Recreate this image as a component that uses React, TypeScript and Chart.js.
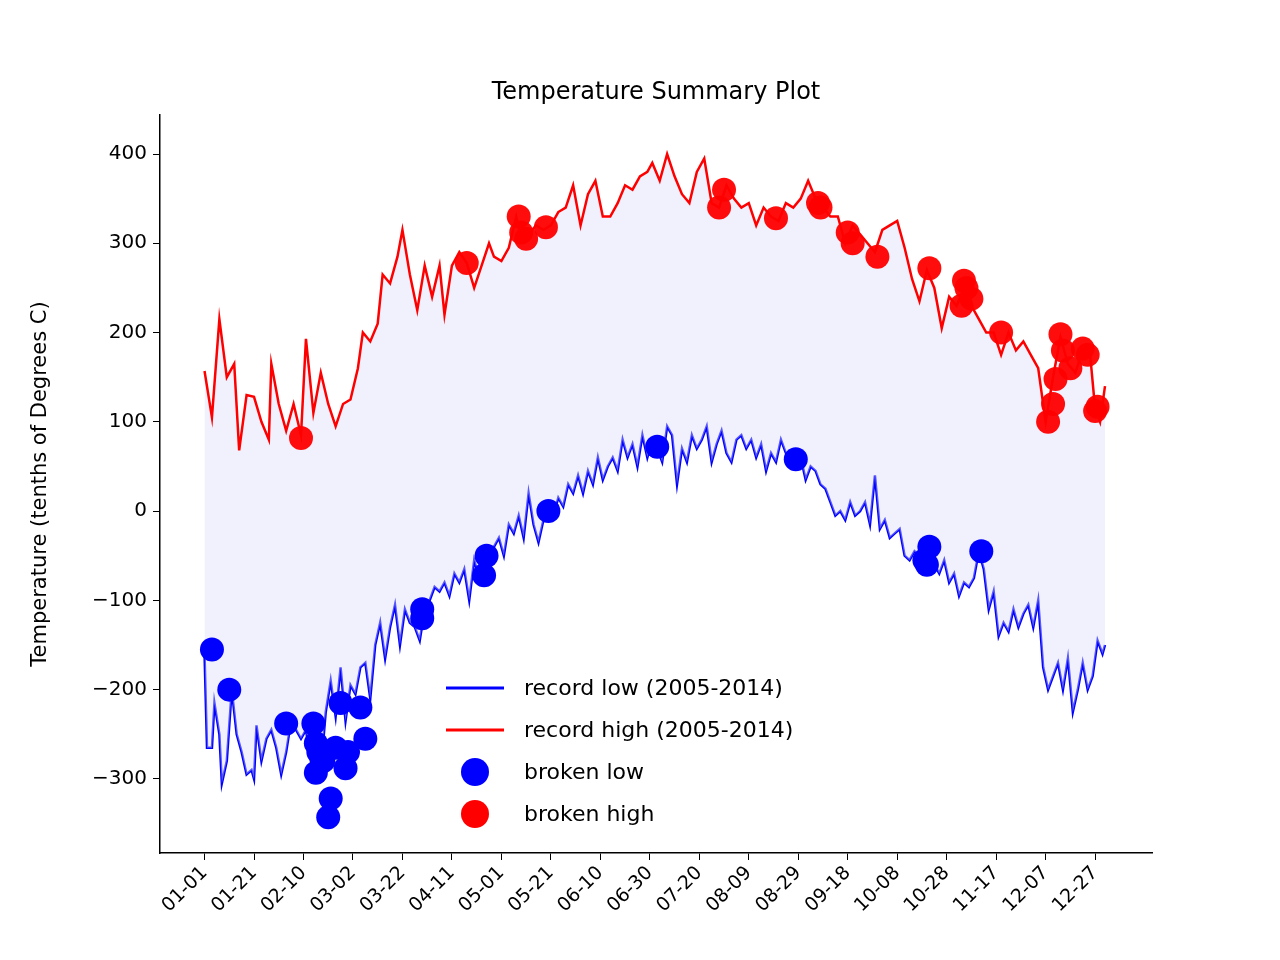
import React, { useEffect, useRef } from "react";
import { Chart, registerables } from "chart.js";
Chart.register(...registerables);

const highDays = [0,3,6,9,12,14,17,20,23,26,27,30,33,36,39,41,44,47,50,53,56,59,62,64,67,70,72,75,78,80,83,86,89,92,95,97,100,103,106,109,112,115,117,120,123,126,128,131,134,137,140,143,146,149,152,155,158,161,164,167,170,173,176,179,181,184,187,190,193,196,199,202,205,208,211,214,217,220,223,226,229,232,235,238,241,244,247,250,253,256,259,262,265,268,271,274,277,280,283,286,289,292,295,298,301,304,307,310,313,316,319,322,325,328,331,334,337,340,343,346,349,352,355,358,360,362,364];
const highVals = [157,105,215,150,165,68,130,128,100,80,165,120,90,120,85,193,110,155,120,95,120,125,160,200,190,210,265,255,285,315,265,225,275,240,275,220,275,290,278,250,275,300,285,280,295,330,305,310,320,315,320,335,340,365,320,355,370,330,330,345,365,360,375,380,390,370,400,375,355,345,380,395,345,340,365,350,340,345,320,340,330,325,345,340,350,370,350,340,330,330,300,320,310,300,290,315,320,325,295,260,235,270,250,205,240,230,250,230,215,200,200,175,200,180,190,175,160,100,150,195,165,155,180,175,115,100,140];

const lowDays = [0,1,3,4,6,7,9,11,13,15,17,19,20,21,23,25,27,29,31,33,35,37,39,41,43,45,47,49,51,53,55,57,59,61,63,65,67,69,71,73,75,77,79,81,83,85,87,89,91,93,95,97,99,101,103,105,107,109,111,113,115,117,119,121,123,125,127,129,131,133,135,137,139,141,143,145,147,149,151,153,155,157,159,161,163,165,167,169,171,173,175,177,179,181,183,185,187,189,191,193,195,197,199,201,203,205,207,209,211,213,215,217,219,221,223,225,227,229,231,233,235,237,239,241,243,245,247,249,251,253,255,257,259,261,263,265,267,269,271,273,275,277,279,281,283,285,287,289,291,293,295,297,299,301,303,305,307,309,311,313,315,317,319,321,323,325,327,329,331,333,335,337,339,341,343,345,347,349,351,353,355,357,359,361,363,364];
const lowVals = [-160,-265,-265,-215,-250,-305,-280,-200,-250,-270,-295,-290,-300,-240,-280,-255,-245,-265,-295,-270,-235,-245,-255,-245,-280,-265,-290,-225,-190,-230,-175,-235,-195,-205,-175,-170,-210,-150,-125,-165,-130,-105,-150,-110,-125,-130,-145,-110,-100,-85,-90,-80,-95,-70,-80,-65,-100,-55,-75,-50,-60,-40,-30,-50,-15,-25,-5,-30,20,-15,-35,-10,0,-5,15,5,30,20,40,20,45,30,60,35,50,60,45,80,60,75,50,85,60,80,70,55,95,85,30,70,55,85,70,80,95,55,75,90,65,55,80,85,70,80,60,75,45,65,55,80,65,55,65,60,35,50,45,30,25,10,-5,0,-10,10,-5,0,10,-15,40,-20,-10,-30,-25,-20,-50,-55,-45,-50,-45,-55,-60,-70,-55,-80,-70,-95,-80,-85,-75,-45,-65,-110,-90,-140,-125,-135,-110,-130,-115,-105,-130,-100,-175,-200,-185,-170,-200,-165,-225,-200,-170,-200,-185,-145,-160,-150];

const brokenLowDays = [3,10,33,44,45,45,46,48,50,51,53,55,57,58,63,65,88,88,113,114,139,183,239,291,292,293,314];
const brokenLowVals = [-155,-200,-238,-238,-260,-293,-270,-280,-343,-322,-265,-215,-288,-270,-220,-255,-110,-120,-72,-50,0,72,58,-55,-60,-40,-45];
const brokenHighDays = [39,106,127,128,130,138,208,210,231,249,248,260,262,272,293,306,307,308,310,322,341,343,344,346,347,350,355,357,360,361];
const brokenHighVals = [82,278,330,312,305,318,340,360,328,340,345,312,300,285,272,230,258,250,238,200,100,120,148,198,180,160,182,175,112,117];

const tickDays = [0,20,40,60,80,100,120,140,160,180,200,220,240,260,280,300,320,340,360];
const tickLabels = ["01-01","01-21","02-10","03-02","03-22","04-11","05-01","05-21","06-10","06-30","07-20","08-09","08-29","09-18","10-08","10-28","11-17","12-07","12-27"];
const legendLabels = ["record low (2005-2014)","record high (2005-2014)","broken low","broken high"];

const FONT = "'DejaVu Sans', sans-serif";

export default function App() {
  const ref = useRef<HTMLCanvasElement>(null);
  useEffect(() => {
    const pts = (xs: number[], ys: number[]) => xs.map((x, i) => ({ x, y: ys[i] }));
    const overlay = {
      id: "overlay",
      afterDraw(chart: any) {
        const ctx = chart.ctx;
        ctx.save();
        ctx.fillStyle = "#000";
        ctx.font = `24px ${FONT}`;
        ctx.textAlign = "center";
        ctx.textBaseline = "alphabetic";
        ctx.fillText("Temperature Summary Plot", (chart.chartArea.left + chart.chartArea.right) / 2, 99);
        const lx = 446, ty = 688, gap = 42;
        ctx.font = `22px ${FONT}`;
        ctx.textAlign = "left";
        ctx.textBaseline = "middle";
        legendLabels.forEach((t, i) => {
          const y = ty + i * gap;
          const col = i % 2 === 0 ? "blue" : "red";
          if (i < 2) {
            ctx.strokeStyle = col; ctx.lineWidth = 3;
            ctx.beginPath(); ctx.moveTo(lx, y); ctx.lineTo(lx + 58, y); ctx.stroke();
          } else {
            ctx.fillStyle = col;
            ctx.beginPath(); ctx.arc(lx + 29, y, 14, 0, Math.PI * 2); ctx.fill();
          }
          ctx.fillStyle = "#000";
          ctx.fillText(t, lx + 78, y + 1);
        });
        ctx.restore();
      },
    };
    const chart = new Chart(ref.current!, {
      type: "scatter",
      data: {
        datasets: [
          { label: "low", data: pts(lowDays, lowVals), showLine: true, borderColor: "blue", borderWidth: 2.5, pointRadius: 0, fill: false, order: 3 },
          { label: "high", data: pts(highDays, highVals), showLine: true, borderColor: "red", borderWidth: 2.5, pointRadius: 0, fill: { target: 0 }, backgroundColor: "rgba(220,220,250,0.4)", order: 2 },
          { label: "bl", data: pts(brokenLowDays, brokenLowVals), pointRadius: 12, backgroundColor: "blue", borderWidth: 0, order: 1 },
          { label: "bh", data: pts(brokenHighDays, brokenHighVals), pointRadius: 12, backgroundColor: "rgba(255,0,0,0.95)", borderWidth: 0, order: 0 },
        ],
      } as any,
      options: {
        animation: false,
        responsive: false,
        layout: { padding: { left: 24, top: 115, right: 128, bottom: 0 } },
        plugins: { legend: { display: false }, tooltip: { enabled: false }, title: { display: false } },
        scales: {
          x: {
            type: "linear", min: -18, max: 383,
            afterBuildTicks: (s: any) => { s.ticks = tickDays.map((v) => ({ value: v })); },
            afterFit: (s: any) => { s.height = 107; },
            grid: { drawOnChartArea: false, drawTicks: true, tickLength: 7, color: "#000" },
            border: { color: "#000", width: 1.5 },
            ticks: { color: "#000", font: { family: FONT, size: 19 }, minRotation: 45, maxRotation: 45, padding: 2,
              callback: (v: any) => tickLabels[tickDays.indexOf(Number(v))] ?? "" },
          },
          y: {
            min: -383, max: 443.7,
            afterBuildTicks: (s: any) => { s.ticks = [-300,-200,-100,0,100,200,300,400].map((v) => ({ value: v })); },
            afterFit: (s: any) => { s.width = 136; },
            grid: { drawOnChartArea: false, drawTicks: true, tickLength: 7, color: "#000" },
            border: { color: "#000", width: 1.5 },
            title: { display: true, text: "Temperature (tenths of Degrees C)", color: "#000", font: { family: FONT, size: 21 } },
            ticks: { color: "#000", font: { family: FONT, size: 20 }, padding: 6,
              callback: (v: any) => (Number(v) < 0 ? "\u2212" + Math.abs(Number(v)) : String(v)) },
          },
        },
      } as any,
      plugins: [overlay],
    });
    return () => chart.destroy();
  }, []);
  return (
    <div style={{ position: "absolute", left: 0, top: 0, width: 1280, height: 960, background: "#fff" }}>
      <canvas ref={ref} width={1280} height={960} style={{ width: 1280, height: 960 }} />
    </div>
  );
}
